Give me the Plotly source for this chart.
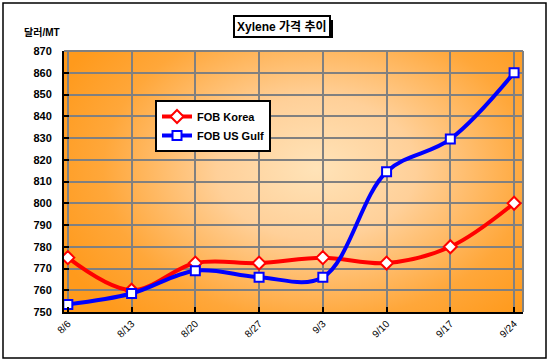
import base64
import plotly.graph_objects as go

dates = ["8/6", "8/13", "8/20", "8/27", "9/3", "9/10", "9/17", "9/24"]
korea = [775, 760, 772.5, 772.5, 775, 772.5, 780, 800]
usgulf = [753.5, 758.5, 769, 766, 766, 814.5, 829.5, 860]
y_ticks = list(range(750, 871, 10))

W, H = 550, 364
L, R, T, B = 64, 27, 51, 52
pw, ph = W - L - R, H - T - B

def px(x):
    return (x - L) / pw

def py(y):
    return (H - B - y) / ph

FONT = "Liberation Sans, Arial, Noto Sans CJK KR, sans-serif"

svg = (
    '<svg xmlns="http://www.w3.org/2000/svg" width="460" height="260" viewBox="0 0 460 260" preserveAspectRatio="none">'
    '<defs><radialGradient id="g" cx="0.55" cy="0.45" r="0.62" gradientTransform="translate(0.55 0.45) scale(1 1.25) translate(-0.55 -0.45)">'
    '<stop offset="0" stop-color="#FFE3B8"/><stop offset="0.35" stop-color="#FFD099"/>'
    '<stop offset="0.75" stop-color="#FFA73A"/><stop offset="1" stop-color="#FF9A1C"/></radialGradient></defs>'
    '<rect width="460" height="260" fill="#FF9A1C"/>'
    '<rect width="460" height="260" fill="url(#g)"/></svg>'
)
bg_src = "data:image/svg+xml;base64," + base64.b64encode(svg.encode()).decode()

fig = go.Figure()
fig.add_trace(go.Scatter(
    x=list(range(len(dates))), y=korea, name="FOB Korea", mode="lines+markers",
    line=dict(color="#FF0000", width=4, shape="spline", smoothing=1),
    marker=dict(symbol="diamond", size=10, color="white", line=dict(color="#FF0000", width=2)),
))
fig.add_trace(go.Scatter(
    x=list(range(len(dates))), y=usgulf, name="FOB US Gulf", mode="lines+markers",
    line=dict(color="#0000FF", width=4, shape="spline", smoothing=1),
    marker=dict(symbol="square", size=9, color="white", line=dict(color="#0000FF", width=2)),
))

fig.update_layout(
    width=W, height=H,
    margin=dict(l=L, r=R, t=T, b=B),
    paper_bgcolor="white",
    plot_bgcolor="rgba(0,0,0,0)",
    font=dict(family=FONT, size=11, color="black"),
    showlegend=True,
    legend=dict(
        x=px(155), y=py(100), xanchor="left", yanchor="top",
        bgcolor="white", bordercolor="black", borderwidth=2,
        font=dict(family=FONT, size=11, color="black", weight="bold"),
        itemwidth=30, tracegroupgap=0,
    ),
    images=[dict(source=bg_src, xref="paper", yref="paper", x=0, y=1,
                 sizex=1, sizey=1, sizing="stretch", layer="below",
                 xanchor="left", yanchor="top")],
    xaxis=dict(
        range=[-0.06, 7.14],
        tickmode="array", tickvals=list(range(len(dates))), ticktext=dates,
        tickangle=-45, tickfont=dict(family=FONT, size=10, color="black"),
        showgrid=True, gridcolor="#808080", gridwidth=2,
        showline=True, linecolor="black", linewidth=2,
        ticks="inside", ticklen=5, tickwidth=2, tickcolor="black",
        zeroline=False,
    ),
    yaxis=dict(
        range=[750, 870],
        tickmode="array", tickvals=y_ticks,
        tickfont=dict(family=FONT, size=11, color="black", weight="bold"),
        showgrid=True, gridcolor="#808080", gridwidth=2,
        showline=True, linecolor="black", linewidth=2,
        ticks="inside", ticklen=5, tickwidth=2, tickcolor="black",
        ticklabelstandoff=8, zeroline=False,
    ),
    shapes=[
        dict(type="line", xref="paper", yref="paper", x0=0, x1=1, y0=1, y1=1,
             line=dict(color="#808080", width=2)),
        dict(type="line", xref="paper", yref="paper", x0=1, x1=1, y0=0, y1=1,
             line=dict(color="#808080", width=2)),
        dict(type="rect", xref="paper", yref="paper",
             x0=px(3), x1=px(546), y0=py(358), y1=py(3),
             line=dict(color="black", width=1.5), fillcolor="rgba(0,0,0,0)"),
        # title box shadow
        dict(type="rect", xref="paper", yref="paper",
             x0=px(237), x1=px(333), y0=py(38), y1=py(20),
             line=dict(width=0), fillcolor="black"),
    ],
    annotations=[
        dict(text="Xylene 가격 추이", xref="paper", yref="paper",
             x=px(282), y=py(27), xanchor="center", yanchor="middle",
             showarrow=False,
             font=dict(family=FONT, size=12, color="black", weight="bold"),
             bgcolor="white", bordercolor="black", borderwidth=2, borderpad=2),
        dict(text="달러/MT", xref="paper", yref="paper",
             x=px(22), y=py(32), xanchor="left", yanchor="middle",
             showarrow=False,
             font=dict(family=FONT, size=10, color="black", weight="bold")),
    ],
)

fig.write_html("out.html", config={"displayModeBar": False},
               post_script="document.body.style.margin='0';document.body.style.padding='0';")
